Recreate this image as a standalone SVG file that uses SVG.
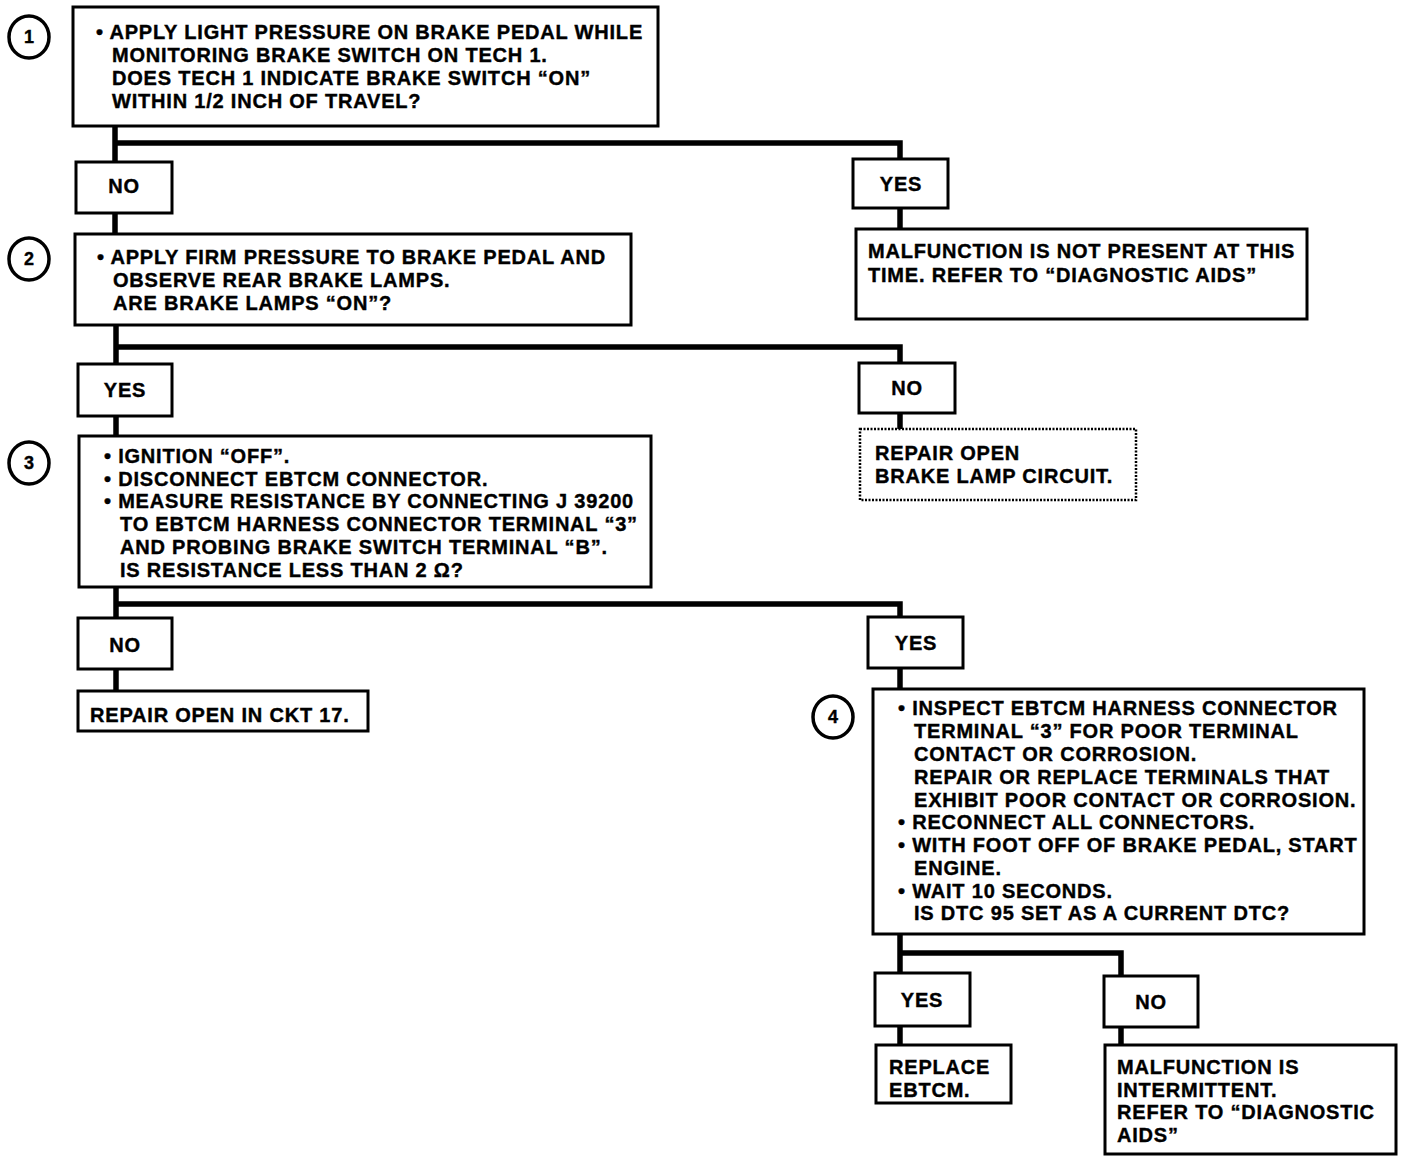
<svg xmlns="http://www.w3.org/2000/svg" width="1408" height="1164" viewBox="0 0 1408 1164">
<style>
.box{fill:#fff;stroke:#000;stroke-width:3}
.dot{fill:#fff;stroke:#000;stroke-width:2.5;stroke-dasharray:2 1.5}
.cir{fill:#fff;stroke:#000;stroke-width:3.5}
.t{font-family:"Liberation Sans",Arial,sans-serif;font-weight:bold;font-size:20px;letter-spacing:0.8px;fill:#000;stroke:#000;stroke-width:0.4}
.c{text-anchor:middle}
.n{font-family:"Liberation Sans",Arial,sans-serif;font-weight:bold;font-size:18px;text-anchor:middle;fill:#000;stroke:#000;stroke-width:0.4}
.ln{fill:none;stroke:#000;stroke-width:5.5;stroke-linejoin:miter}
</style>
<rect width="1408" height="1164" fill="#fff"/>
<g id="connectors">
<path class="ln" d="M115 126 V162"/>
<path class="ln" d="M115 143 H900 V159"/>
<path class="ln" d="M900 208 V229"/>
<path class="ln" d="M115 213 V234"/>
<path class="ln" d="M116 325 V364"/>
<path class="ln" d="M116 347 H900 V363"/>
<path class="ln" d="M900 413 V429"/>
<path class="ln" d="M116 416 V436"/>
<path class="ln" d="M116 587 V618"/>
<path class="ln" d="M116 604 H900 V617"/>
<path class="ln" d="M116 669 V691"/>
<path class="ln" d="M900 668 V689"/>
<path class="ln" d="M900 934 V973"/>
<path class="ln" d="M900 953 H1121 V976"/>
<path class="ln" d="M900 1026 V1045"/>
<path class="ln" d="M1121 1027 V1045"/>
</g>
<g id="step1">
<ellipse class="cir" cx="29" cy="37" rx="20" ry="21"/>
<text class="n" x="29" y="43">1</text>
<rect class="box" x="73" y="7" width="585" height="119"/>
<text class="t" x="96" y="39">• APPLY LIGHT PRESSURE ON BRAKE PEDAL WHILE</text>
<text class="t" x="112" y="62">MONITORING BRAKE SWITCH ON TECH 1.</text>
<text class="t" x="112" y="85">DOES TECH 1 INDICATE BRAKE SWITCH “ON”</text>
<text class="t" x="112" y="108">WITHIN 1/2 INCH OF TRAVEL?</text>
</g>
<g id="no1">
<rect class="box" x="76" y="162" width="96" height="51"/>
<text class="t c" x="124" y="193">NO</text>
</g>
<g id="yes1">
<rect class="box" x="853" y="159" width="95" height="49"/>
<text class="t c" x="901" y="191">YES</text>
</g>
<g id="notpresent">
<rect class="box" x="856" y="229" width="451" height="90"/>
<text class="t" x="868" y="258">MALFUNCTION IS NOT PRESENT AT THIS</text>
<text class="t" x="868" y="282">TIME. REFER TO “DIAGNOSTIC AIDS”</text>
</g>
<g id="step2">
<ellipse class="cir" cx="29" cy="259" rx="20" ry="21"/>
<text class="n" x="29" y="265">2</text>
<rect class="box" x="75" y="234" width="556" height="91"/>
<text class="t" x="97" y="264">• APPLY FIRM PRESSURE TO BRAKE PEDAL AND</text>
<text class="t" x="113" y="287">OBSERVE REAR BRAKE LAMPS.</text>
<text class="t" x="113" y="310">ARE BRAKE LAMPS “ON”?</text>
</g>
<g id="yes2">
<rect class="box" x="78" y="364" width="94" height="52"/>
<text class="t c" x="125" y="397">YES</text>
</g>
<g id="no2">
<rect class="box" x="859" y="363" width="96" height="50"/>
<text class="t c" x="907" y="395">NO</text>
</g>
<g id="repairlamp">
<rect class="dot" x="860" y="429" width="276" height="71"/>
<text class="t" x="875" y="460">REPAIR OPEN</text>
<text class="t" x="875" y="483">BRAKE LAMP CIRCUIT.</text>
</g>
<g id="step3">
<ellipse class="cir" cx="29" cy="463" rx="20" ry="21"/>
<text class="n" x="29" y="469">3</text>
<rect class="box" x="79" y="436" width="572" height="151"/>
<text class="t" x="104" y="463">• IGNITION “OFF”.</text>
<text class="t" x="104" y="486">• DISCONNECT EBTCM CONNECTOR.</text>
<text class="t" x="104" y="508">• MEASURE RESISTANCE BY CONNECTING J 39200</text>
<text class="t" x="120" y="531">TO EBTCM HARNESS CONNECTOR TERMINAL “3”</text>
<text class="t" x="120" y="554">AND PROBING BRAKE SWITCH TERMINAL “B”.</text>
<text class="t" x="120" y="577">IS RESISTANCE LESS THAN 2 Ω?</text>
</g>
<g id="no3">
<rect class="box" x="78" y="618" width="94" height="51"/>
<text class="t c" x="125" y="652">NO</text>
</g>
<g id="yes3">
<rect class="box" x="868" y="617" width="95" height="51"/>
<text class="t c" x="916" y="650">YES</text>
</g>
<g id="repairckt">
<rect class="box" x="78" y="691" width="290" height="40"/>
<text class="t" x="90" y="722">REPAIR OPEN IN CKT 17.</text>
</g>
<g id="step4">
<ellipse class="cir" cx="833" cy="717" rx="20" ry="21"/>
<text class="n" x="833" y="723">4</text>
<rect class="box" x="873" y="689" width="491" height="245"/>
<text class="t" x="898" y="715">• INSPECT EBTCM HARNESS CONNECTOR</text>
<text class="t" x="914" y="738">TERMINAL “3” FOR POOR TERMINAL</text>
<text class="t" x="914" y="761">CONTACT OR CORROSION.</text>
<text class="t" x="914" y="784">REPAIR OR REPLACE TERMINALS THAT</text>
<text class="t" x="914" y="807">EXHIBIT POOR CONTACT OR CORROSION.</text>
<text class="t" x="898" y="829">• RECONNECT ALL CONNECTORS.</text>
<text class="t" x="898" y="852">• WITH FOOT OFF OF BRAKE PEDAL, START</text>
<text class="t" x="914" y="875">ENGINE.</text>
<text class="t" x="898" y="898">• WAIT 10 SECONDS.</text>
<text class="t" x="914" y="920">IS DTC 95 SET AS A CURRENT DTC?</text>
</g>
<g id="yes4">
<rect class="box" x="875" y="973" width="95" height="53"/>
<text class="t c" x="922" y="1007">YES</text>
</g>
<g id="no4">
<rect class="box" x="1104" y="976" width="94" height="51"/>
<text class="t c" x="1151" y="1009">NO</text>
</g>
<g id="replace">
<rect class="box" x="876" y="1045" width="135" height="58"/>
<text class="t" x="889" y="1074">REPLACE</text>
<text class="t" x="889" y="1097">EBTCM.</text>
</g>
<g id="intermittent">
<rect class="box" x="1105" y="1045" width="291" height="109"/>
<text class="t" x="1117" y="1074">MALFUNCTION IS</text>
<text class="t" x="1117" y="1097">INTERMITTENT.</text>
<text class="t" x="1117" y="1119">REFER TO “DIAGNOSTIC</text>
<text class="t" x="1117" y="1142">AIDS”</text>
</g>
</svg>
